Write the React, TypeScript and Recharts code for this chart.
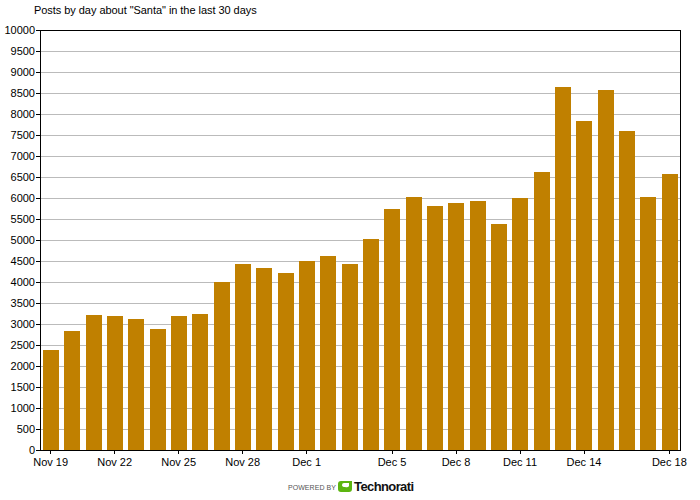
import { Bar, BarChart, CartesianGrid, XAxis, YAxis, usePlotArea } from "recharts";

const days = [
  "Nov 19", "Nov 20", "Nov 21", "Nov 22", "Nov 23", "Nov 24", "Nov 25", "Nov 26", "Nov 27", "Nov 28",
  "Nov 29", "Nov 30", "Dec 1", "Dec 2", "Dec 3", "Dec 4", "Dec 5", "Dec 6", "Dec 7", "Dec 8",
  "Dec 9", "Dec 10", "Dec 11", "Dec 12", "Dec 13", "Dec 14", "Dec 15", "Dec 16", "Dec 17", "Dec 18",
];
const posts = [
  2380, 2840, 3220, 3190, 3130, 2890, 3200, 3250, 4000, 4430,
  4340, 4220, 4500, 4620, 4430, 5030, 5740, 6030, 5820, 5880,
  5930, 5390, 6000, 6620, 8650, 7840, 8560, 7600, 6030, 6570,
];
const dayTicks = ["Nov 19", "Nov 22", "Nov 25", "Nov 28", "Dec 1", "Dec 5", "Dec 8", "Dec 11", "Dec 14", "Dec 18"];
const postTicks = [
  0, 500, 1000, 1500, 2000, 2500, 3000, 3500, 4000, 4500, 5000,
  5500, 6000, 6500, 7000, 7500, 8000, 8500, 9000, 9500, 10000,
];

const chartData = days.map((day, i) => ({ day, posts: posts[i] }));
const FONT = '"Liberation Sans", Arial, sans-serif';
const tickStyle = { fontSize: 11, fill: "#000", fontFamily: FONT };

// black box round the plot, sized from the chart's own layout
function PlotFrame() {
  const area = usePlotArea();
  if (!area) return null;
  return <rect x={area.x} y={area.y} width={area.width} height={area.height} fill="none" stroke="#000" />;
}

export default function App() {
  return (
    <div style={{ position: "absolute", left: 0, top: 0, width: 700, height: 500, background: "#fff" }}>
      <div style={{ position: "absolute", left: 34, top: 4, fontFamily: FONT, fontSize: 11, letterSpacing: -0.05, color: "#000", whiteSpace: "nowrap" }}>
        Posts by day about "Santa" in the last 30 days
      </div>
      <BarChart
        width={700}
        height={500}
        data={chartData}
        margin={{ top: 30, right: 20, bottom: 30, left: 0 }}
        barCategoryGap={0}
        style={{ shapeRendering: "crispEdges" }}
      >
        <CartesianGrid horizontal vertical={false} stroke="#bbbbbb" strokeWidth={1} />
        <XAxis
          dataKey="day"
          ticks={dayTicks}
          interval={0}
          height={20}
          tick={tickStyle}
          tickSize={4}
          tickMargin={4}
          stroke="#000"
        />
        <YAxis
          width={40}
          domain={[0, 10000]}
          ticks={postTicks}
          interval={0}
          tick={tickStyle}
          tickSize={4}
          tickMargin={1}
          stroke="#000"
        />
        <Bar dataKey="posts" fill="#c08000" barSize={16} isAnimationActive={false} />
        <PlotFrame />
      </BarChart>
      {/* Technorati badge under the plot */}
      <div style={{ position: "absolute", left: 288, top: 484, fontFamily: FONT, fontSize: 7, letterSpacing: 0.05, color: "#555", whiteSpace: "nowrap" }}>
        POWERED BY
      </div>
      <svg style={{ position: "absolute", left: 338, top: 481 }} width={14} height={12} viewBox="0 0 14 12">
        <path
          d="M3 0 H14 V8 Q14 11 11 11 H3 Q0 11 0 8 V3 Q0 0 3 0 Z M6 2 Q4 2 4 4 Q4 6 7 6 Q10 7 11 5 V2 Z"
          fill="#5cb510"
          fillRule="evenodd"
        />
      </svg>
      <div style={{ position: "absolute", left: 354, top: 479, fontFamily: FONT, fontSize: 13, fontWeight: 700, letterSpacing: -0.6, color: "#111", whiteSpace: "nowrap" }}>
        Technorati
      </div>
    </div>
  );
}
